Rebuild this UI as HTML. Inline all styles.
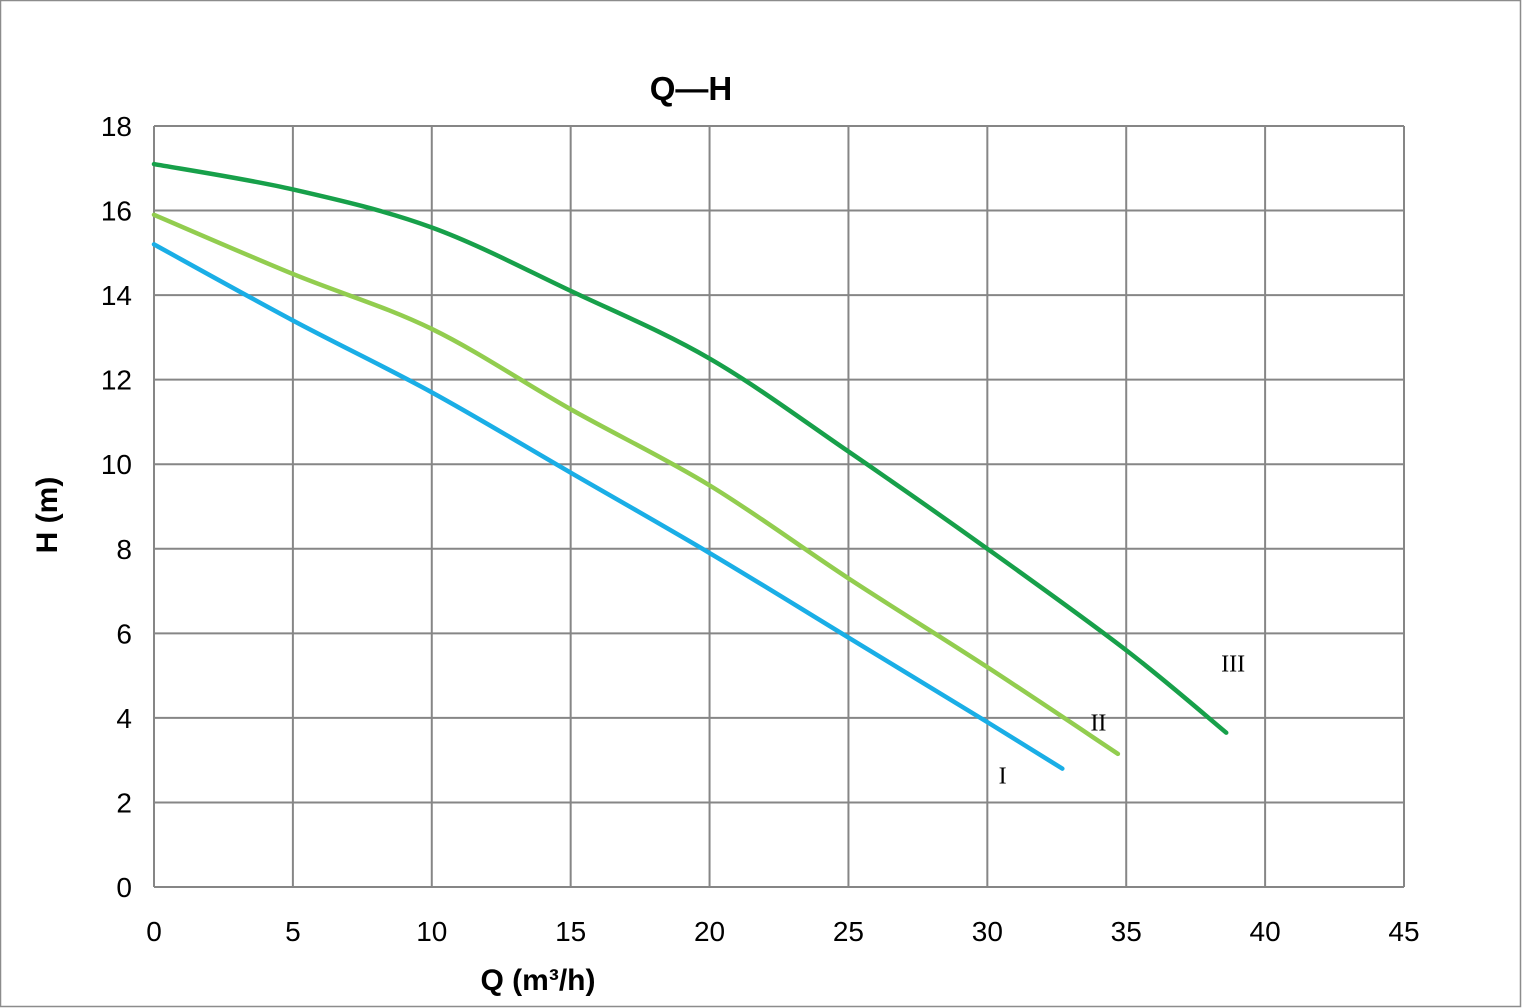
<!DOCTYPE html>
<html><head><meta charset="utf-8"><style>
html,body{margin:0;padding:0;background:#fff;}
svg{display:block;font-family:"Liberation Sans",sans-serif;}
</style></head><body>
<svg id="chart" width="1522" height="1008" viewBox="0 0 1522 1008">
<rect x="0.5" y="0.5" width="1520" height="1006" fill="#fff" stroke="#8c8c8c" stroke-width="1.5"/>
<text x="691" y="100" text-anchor="middle" font-size="33" font-weight="bold" fill="#000">Q—H</text>
<g id="grid"></g>
<g id="series"></g>
<text transform="translate(57,515) rotate(-90)" text-anchor="middle" font-size="30" font-weight="bold">H (m)</text>
<text x="538" y="990" text-anchor="middle" font-size="30" font-weight="bold">Q (m³/h)</text>
</svg>
<script>
const xTicks=[0,5,10,15,20,25,30,35,40,45];
const yTicks=[0,2,4,6,8,10,12,14,16,18];
const qI=[0,5,10,15,20,25,30,32.7];
const hI=[15.2,13.4,11.7,9.8,7.9,5.9,3.9,2.8];
const qII=[0,5,10,15,20,25,30,34.7];
const hII=[15.9,14.5,13.2,11.3,9.5,7.3,5.2,3.15];
const qIII=[0,5,10,15,20,25,30,35,38.6];
const hIII=[17.1,16.5,15.6,14.1,12.5,10.3,8.0,5.6,3.65];
const seriesLabels=["I","II","III"];
const labelQ=[30.55,34.0,38.85];
const labelH=[2.45,3.7,5.1];

const X0=154,X1=1404,Y0=887,Y1=126;
const xs=v=>X0+(X1-X0)*v/45;
const ys=v=>Y0-(Y0-Y1)*v/18;
const NS="http://www.w3.org/2000/svg";
const grid=document.getElementById('grid');
const ser=document.getElementById('series');
function mk(tag,attrs,parent){const e=document.createElementNS(NS,tag);for(const k in attrs)e.setAttribute(k,attrs[k]);parent.appendChild(e);return e;}
xTicks.forEach(t=>{
  const l=mk('line',{x1:xs(t),x2:xs(t),y1:Y1,y2:Y0,stroke:'#868686','stroke-width':2},grid);
  
  
  const tx=mk('text',{x:xs(t),y:941,'text-anchor':'middle','font-size':28},grid);
  tx.textContent=t;
  
  
});
yTicks.forEach(t=>{
  const l=mk('line',{x1:X0,x2:X1,y1:ys(t),y2:ys(t),stroke:'#868686','stroke-width':2},grid);
  
  
  const tx=mk('text',{x:132,y:ys(t)+10,'text-anchor':'end','font-size':28},grid);
  tx.textContent=t;
  
  
});
function smooth(q,h){
  const p=q.map((v,i)=>[xs(v),ys(h[i])]);
  let d='M'+p[0][0]+','+p[0][1];
  for(let i=0;i<p.length-1;i++){
    const p0=p[Math.max(0,i-1)],p1=p[i],p2=p[i+1],p3=p[Math.min(p.length-1,i+2)];
    const c1=[p1[0]+(p2[0]-p0[0])/6,p1[1]+(p2[1]-p0[1])/6];
    const c2=[p2[0]-(p3[0]-p1[0])/6,p2[1]-(p3[1]-p1[1])/6];
    d+=' C'+c1+' '+c2+' '+p2;
  }
  return d;
}
const defs=[[qI,hI,'#1aaee6','curve-i'],[qII,hII,'#92cd4f','curve-ii'],[qIII,hIII,'#17a04a','curve-iii']];
defs.forEach((s,i)=>{
  const p=mk('path',{d:smooth(s[0],s[1]),fill:'none',stroke:s[2],'stroke-width':4.5,'stroke-linecap':'round'},ser);
  
  
  const t=mk('text',{x:xs(labelQ[i]),y:ys(labelH[i]),'text-anchor':'middle','font-size':24,'font-family':'"Liberation Serif",serif'},ser);
  t.textContent=seriesLabels[i];
  
  
});
</script>
</body></html>
